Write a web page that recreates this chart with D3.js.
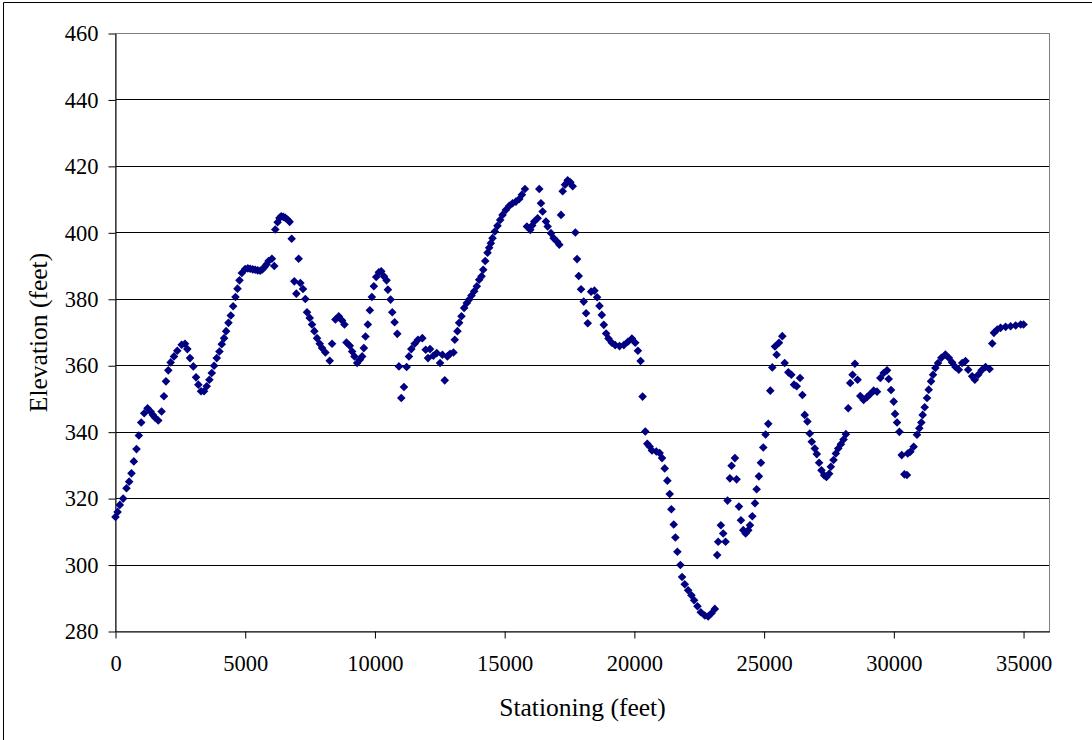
<!DOCTYPE html>
<html>
<head>
<meta charset="utf-8">
<script src="https://cdn.jsdelivr.net/npm/d3@7"></script>
<style>
  html, body { margin: 0; padding: 0; background: #fff; }
  svg { display: block; }
  text { font-family: "Liberation Serif", "Times New Roman", serif; fill: #000; }
</style>
</head>
<body>
<svg id="chart" width="1092" height="740"></svg>
<script>
// ---- Data ----
const stations = [0,80,166,295,423,526,616,706,810,900,991,1107,1236,1352,1440,1519,1648,1777,1867,1945,2035,2125,2254,2382,2550,2679,2769,2872,3000,3104,3194,3297,3413,3516,3619,3710,3800,3903,4006,4096,4186,4263,4354,4444,4534,4624,4702,4779,4869,4998,5100,5191,5290,5384,5480,5578,5660,5746,5820,5900,6029,6119,6158,6248,6320,6390,6470,6545,6630,6712,6790,6892,6970,7059,7124,7227,7317,7382,7485,7575,7665,7768,7871,7962,8091,8257,8347,8476,8605,8734,8824,8902,9030,9120,9211,9314,9417,9507,9572,9636,9726,9804,9881,9958,10049,10152,10242,10345,10448,10500,10603,10667,10758,10861,10925,11015,11118,11221,11311,11402,11530,11659,11827,11956,12046,12123,12252,12381,12510,12600,12690,12793,12897,13026,13077,13180,13245,13335,13438,13541,13631,13721,13825,13928,14018,14108,14173,14250,14340,14402,14467,14531,14621,14724,14827,14917,15046,15175,15304,15433,15562,15665,15781,15858,15987,16060,16141,16270,16334,16399,16463,16592,16657,16785,16888,17017,17107,17172,17236,17326,17429,17532,17622,17725,17790,17854,17944,18047,18138,18202,18331,18460,18563,18654,18744,18821,18911,19001,19130,19259,19427,19594,19749,19904,20033,20136,20239,20316,20420,20497,20587,20678,20845,20974,21065,21168,21271,21361,21425,21516,21580,21657,21773,21838,21941,22070,22199,22302,22431,22560,22714,22843,22972,23101,23191,23230,23333,23423,23514,23591,23682,23746,23875,23939,24030,24107,24197,24287,24390,24455,24545,24648,24712,24800,24877,24967,25057,25160,25238,25315,25418,25482,25573,25702,25792,25934,26050,26153,26256,26385,26476,26566,26669,26759,26837,26953,27030,27120,27211,27314,27404,27507,27572,27675,27765,27856,27959,28062,28152,28242,28319,28409,28500,28603,28706,28835,28964,29093,29222,29351,29480,29609,29738,29802,29892,29995,30047,30124,30214,30304,30407,30506,30536,30636,30764,30893,30983,31060,31112,31189,31279,31344,31434,31511,31601,31704,31833,31988,32117,32246,32375,32504,32633,32762,32865,33020,33123,33252,33381,33535,33690,33793,33857,33986,34115,34309,34502,34695,34889,35000];
const elevations = [314.5,316,318.1,320,323.1,325.1,327.6,331.2,334.9,339,342.9,345.7,347.2,346.2,345.2,344.4,343.5,346.2,350.8,355.3,358.6,361,362.8,364.5,366.3,366.6,365,362.3,359.8,356.5,354.3,352.3,352.3,353.8,355.8,357.8,360,362.3,364.3,366.5,368.3,370.4,372.9,375.1,377.9,380.7,383.2,385.7,387.9,389.1,389.3,389.2,389,388.9,388.7,388.6,389,389.7,390.5,391.5,392.2,390,401,403.2,404.5,405,404.8,404.5,404,403.3,398.2,385.4,381.7,392.2,384.9,383.1,380.1,376.1,374.4,372.4,370.4,368.3,366.6,365.3,364,361.5,366.6,373.9,374.9,373.6,372.4,367,366,364.3,362.8,360.8,361.8,362.8,365.3,368.8,372.4,376.7,380.7,383.9,386.7,388.1,388.4,386.9,385.7,382.9,379.9,376.1,373.1,369.6,359.8,350.3,353.6,359.6,362.8,365,366.6,367.8,368.3,364.8,362.3,365,363,363.8,360.8,363.3,355.6,362.8,363.6,364,367.8,370.4,372.9,374.9,377.4,378.9,379.9,381.1,382.4,383.9,385.9,386.9,388.9,391.5,394,395.5,396.9,398.4,400.4,402.1,403.9,405.4,406.9,408.1,408.9,409.4,410.2,411.5,413.2,401.9,400.9,402.2,403.4,404.4,413.2,408.9,406.4,403.4,401.9,399.9,398.4,397.4,396.4,405.4,412.5,414.5,415.8,415.2,414,400.1,392.1,387,383,379.3,375.8,372.8,382.3,382.6,380.6,378,375.3,372.3,369.7,368.2,366.9,366.2,365.9,366.2,367.2,368.2,366.9,364.5,361.4,350.7,340.2,336.5,335.7,334.5,334.2,333.7,332.2,329.1,325.4,321.4,316.8,312.2,308.3,304,300,296.4,294.2,292.4,290.9,289.4,287.6,285.8,284.8,284.5,285.5,286.8,303,307,312,309.5,307,319.4,326.1,329.9,332.2,325.8,317.6,313.5,310.5,309.5,310.5,312,314.7,318.6,322.8,326.7,330.8,335.4,339.3,342.5,352.5,359.5,365.8,363.3,366.9,368.9,360.8,358,357.3,354.3,353.8,356.3,351.2,345.2,343.2,339.6,337.1,335.1,333.4,330.8,328.5,327,326.5,327.5,329.6,331.6,333.6,335.1,336.4,337.8,339.4,347.2,354.8,357.3,360.6,355.8,350.9,349.7,350.5,351.5,352.5,352.2,356.3,357.8,358.6,356,352.7,349.2,345.5,342.9,340.1,333.1,327.3,327.1,333.6,334.1,335.6,339.2,341.2,342.9,345.2,347.5,350.3,352.8,355.3,357.3,359.3,360.8,362.4,363.4,362.4,361,359.6,358.8,360.8,361.4,358.8,356.8,355.8,357.3,358.6,359.6,359,366.7,369.9,370.9,371.4,371.7,371.9,372.1,372.4,372.4];

const xTicks = [0,5000,10000,15000,20000,25000,30000,35000];
const yTicks = [280,300,320,340,360,380,400,420,440,460];
const xDomain = [0, 36000];
const yDomain = [280, 460];
const xTitle = "Stationing (feet)";
const yTitle = "Elevation (feet)";

// ---- Drawing ----
(function () {
  const svg = d3.select("#chart");
  const pLeft = 115.5, pRight = 1049.5, pTop = 33.5, pBottom = 631.5;
  const font = '"Liberation Serif", "Times New Roman", serif';

  const x = d3.scaleLinear().domain(xDomain).range([pLeft, pRight]);
  const y = d3.scaleLinear().domain(yDomain).range([pBottom, pTop]);

  // outer chart border (only left and top visible)
  svg.append("path")
    .attr("d", "M3.5,740 L3.5,2.5 L1092,2.5")
    .attr("fill", "none").attr("stroke", "#000").attr("stroke-width", 1);

  // gridlines
  svg.append("g").selectAll("line")
    .data(yTicks.filter(d => d !== yDomain[0] && d !== yDomain[1]))
    .join("line")
    .attr("x1", pLeft).attr("x2", pRight)
    .attr("y1", d => Math.round(y(d) - 0.5) + 0.5).attr("y2", d => Math.round(y(d) - 0.5) + 0.5)
    .attr("stroke", "#000").attr("stroke-width", 1);

  // plot area border (gray)
  svg.append("rect")
    .attr("x", pLeft).attr("y", pTop)
    .attr("width", pRight - pLeft).attr("height", pBottom - pTop)
    .attr("fill", "none").attr("stroke", "#808080").attr("stroke-width", 1);

  // axes
  const fs = 22.5;
  const xAxis = d3.axisBottom(x).tickValues(xTicks).tickSize(7).tickSizeOuter(0).tickPadding(17)
    .tickFormat(d3.format("d"));
  const gx = svg.append("g").attr("transform", `translate(0,${pBottom})`).call(xAxis);
  gx.select(".domain").attr("stroke", "#000");
  gx.selectAll(".tick line").attr("stroke", "#000");
  gx.selectAll("text").attr("font-size", fs).attr("font-family", font).attr("fill", "#000");

  const yAxis = d3.axisLeft(y).tickValues(yTicks).tickSize(7).tickSizeOuter(0).tickPadding(10)
    .tickFormat(d3.format("d"));
  const gy = svg.append("g").attr("transform", `translate(${pLeft},0)`).call(yAxis);
  gy.select(".domain").attr("stroke", "#000");
  gy.selectAll(".tick line").attr("stroke", "#000");
  gy.selectAll("text").attr("font-size", fs).attr("font-family", font).attr("fill", "#000");

  // points (diamonds)
  const pts = stations.map((s, i) => ({ s, e: elevations[i] }));
  const r = 4.3;
  svg.append("g").selectAll("path")
    .data(pts)
    .join("path")
    .attr("d", d => {
      const cx = x(d.s), cy = y(d.e);
      return `M${cx},${cy - r}L${cx + r},${cy}L${cx},${cy + r}L${cx - r},${cy}Z`;
    })
    .attr("fill", "#000080");

  // titles
  svg.append("text")
    .attr("x", (pLeft + pRight) / 2).attr("y", 715.5)
    .attr("text-anchor", "middle").attr("font-size", 25.5).attr("font-family", font)
    .text(xTitle);

  svg.append("text")
    .attr("transform", `translate(47,${(pTop + pBottom) / 2}) rotate(-90)`)
    .attr("text-anchor", "middle").attr("font-size", 25.5).attr("font-family", font)
    .text(yTitle);
})();
</script>
</body>
</html>
